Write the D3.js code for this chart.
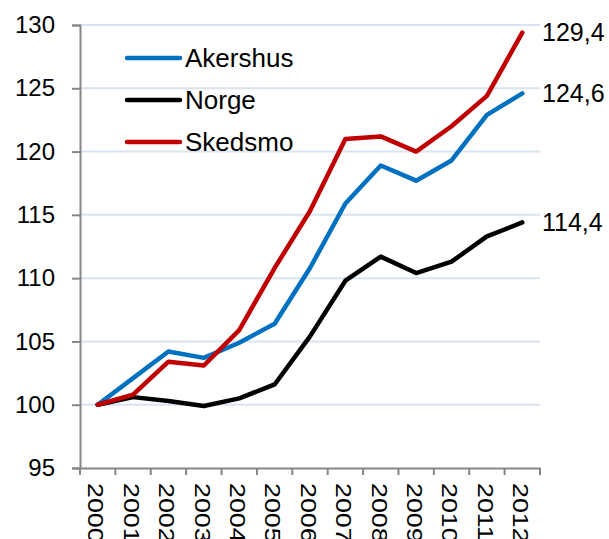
<!DOCTYPE html>
<html>
<head>
<meta charset="utf-8">
<script src="https://cdn.jsdelivr.net/npm/d3@7"></script>
<style>
  html, body { margin: 0; padding: 0; background: #fff; }
  svg { display: block; font-family: "Liberation Sans", Arial, sans-serif; }
</style>
</head>
<body>
<div id="chart"></div>
<script>
var years = ["2000", "2001", "2002", "2003", "2004", "2005", "2006", "2007", "2008", "2009", "2010", "2011", "2012"];
var akershus = [100, 102.1, 104.2, 103.7, 104.9, 106.4, 110.8, 115.9, 118.9, 117.7, 119.3, 122.9, 124.6];
var norge = [100, 100.6, 100.3, 99.9, 100.5, 101.6, 105.4, 109.8, 111.7, 110.4, 111.3, 113.3, 114.4];
var skedsmo = [100, 100.8, 103.4, 103.1, 105.9, 110.8, 115.3, 121.0, 121.2, 120.0, 122.0, 124.4, 129.4];
var yTicks = [95, 100, 105, 110, 115, 120, 125, 130];
var seriesNames = ["Akershus", "Norge", "Skedsmo"];
var endLabels = ["124,6", "114,4", "129,4"];

class LineChart {
  /* ===================================
   *  CONSTRUCTOR
   * =================================== */
  constructor() {
    this.width = 609;
    this.height = 539;
    this.colors = ["#0070C0", "#000000", "#C00000"];
    this.series = [akershus, norge, skedsmo];
    this.draw();
  }

  /* ===================================
   *  METHODS
   * =================================== */
  draw() {
    var svg = d3.select("#chart").append("svg")
      .attr("width", this.width)
      .attr("height", this.height);

    this.x = d3.scaleBand().domain(years).range([80, 540]);
    this.y = d3.scaleLinear().domain([95, 130]).range([468, 25]);

    this.drawGrid(svg);
    this.drawAxes(svg);
    this.drawLines(svg);
    this.drawLegend(svg);
  }

  drawGrid(svg) {
    svg.append("g")
      .selectAll("line")
      .data(yTicks.filter(function (d) { return d > 95; }))
      .join("line")
      .attr("x1", 80).attr("x2", 540)
      .attr("y1", (d) => this.y(d)).attr("y2", (d) => this.y(d))
      .attr("stroke", "#D9E3F1")
      .attr("stroke-width", 2);
  }

  drawAxes(svg) {
    var yAxis = svg.append("g")
      .attr("transform", "translate(80,0)")
      .call(d3.axisLeft(this.y).tickValues(yTicks).tickSize(8).tickPadding(17));
    yAxis.select(".domain").attr("stroke", "#868686").attr("stroke-width", 2);
    yAxis.selectAll(".tick line").attr("stroke", "#868686").attr("stroke-width", 2);
    yAxis.selectAll(".tick text")
      .attr("font-size", 24)
      .attr("font-family", "Liberation Sans, Arial, sans-serif")
      .attr("fill", "#000");

    var xAxis = svg.append("g")
      .attr("transform", "translate(0,468)")
      .call(d3.axisBottom(this.x).tickSize(0).tickSizeOuter(0));
    xAxis.select(".domain").attr("stroke", "#868686").attr("stroke-width", 2);
    xAxis.selectAll(".tick text").remove();

    // boundary ticks between categories
    var edges = years.map((d) => this.x(d)).concat([this.x.range()[1]]);
    xAxis.selectAll(".edge")
      .data(edges)
      .join("line")
      .attr("class", "edge")
      .attr("x1", (d) => d).attr("x2", (d) => d)
      .attr("y1", 0).attr("y2", 7)
      .attr("stroke", "#868686")
      .attr("stroke-width", 2);

    // the year labels are drawn stretched along their direction, as in the picture
    xAxis.selectAll(".year")
      .data(years)
      .join("text")
      .attr("class", "year")
      .attr("transform", (d) => "translate(" + (this.x(d) + this.x.bandwidth() / 2 - 1.5) + ",15) rotate(90) scale(1.22,1)")
      .attr("dy", "0.35em")
      .attr("text-anchor", "start")
      .attr("font-size", 22)
      .attr("fill", "#000")
      .text((d) => d);
  }

  drawLines(svg) {
    var line = d3.line()
      .x((d, i) => this.x(years[i]) + this.x.bandwidth() / 2)
      .y((d) => this.y(d));

    svg.append("g")
      .selectAll("path")
      .data(this.series)
      .join("path")
      .attr("d", line)
      .attr("fill", "none")
      .attr("stroke", (d, i) => this.colors[i])
      .attr("stroke-width", 4.5)
      .attr("stroke-linejoin", "round")
      .attr("stroke-linecap", "round");

    svg.append("g")
      .selectAll("text")
      .data(this.series)
      .join("text")
      .attr("x", 542)
      .attr("y", (d) => this.y(d[d.length - 1]))
      .attr("dy", "0.35em")
      .attr("font-size", 25)
      .attr("fill", "#000")
      .text((d, i) => endLabels[i]);
  }

  drawLegend(svg) {
    var items = svg.append("g")
      .selectAll("g")
      .data(seriesNames)
      .join("g")
      .attr("transform", (d, i) => "translate(127," + (58 + i * 42) + ")");

    items.append("line")
      .attr("x1", 0).attr("x2", 53)
      .attr("stroke", (d, i) => this.colors[i])
      .attr("stroke-width", 4.5)
      .attr("stroke-linecap", "round");

    items.append("text")
      .attr("x", 58)
      .attr("dy", "0.35em")
      .attr("font-size", 26)
      .attr("fill", "#000")
      .text((d) => d);
  }
}

new LineChart();
</script>
</body>
</html>
